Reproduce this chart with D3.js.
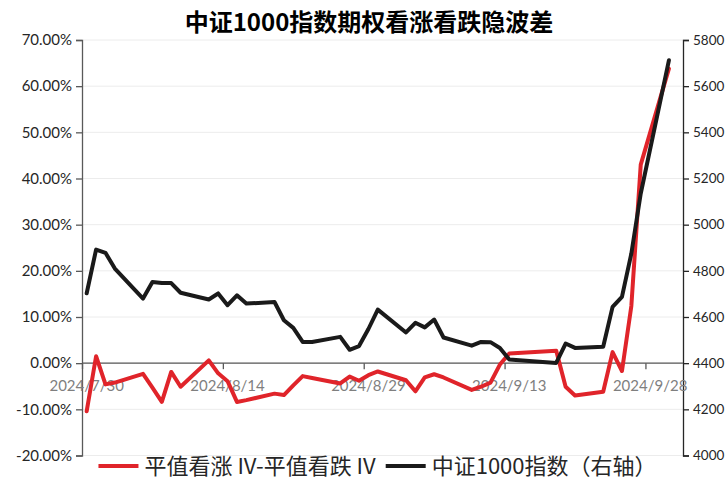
<!DOCTYPE html>
<html><head><meta charset="utf-8">
<script src="https://cdn.jsdelivr.net/npm/d3@7/dist/d3.min.js"></script>
<style>
html,body{margin:0;padding:0;background:#fff;}
svg{display:block;}
</style></head>
<body>
<svg id="chart" width="726" height="492"></svg>
<script>
const dates = ["2024-07-30","2024-07-31","2024-08-01","2024-08-02","2024-08-05","2024-08-06","2024-08-07","2024-08-08","2024-08-09","2024-08-12","2024-08-13","2024-08-14","2024-08-15","2024-08-16","2024-08-19","2024-08-20","2024-08-21","2024-08-22","2024-08-23","2024-08-26","2024-08-27","2024-08-28","2024-08-29","2024-08-30","2024-09-02","2024-09-03","2024-09-04","2024-09-05","2024-09-06","2024-09-09","2024-09-10","2024-09-11","2024-09-12","2024-09-13","2024-09-18","2024-09-19","2024-09-20","2024-09-23","2024-09-24","2024-09-25","2024-09-26","2024-09-27","2024-09-30"];
const ivSpread = [-10.4,1.5,-4.6,-4.2,-2.3,-5.3,-8.4,-1.9,-5.1,0.6,-2.2,-3.9,-8.4,-8.0,-6.6,-6.9,-4.8,-2.8,-3.2,-4.4,-2.9,-3.8,-2.6,-1.8,-3.7,-6.1,-3.1,-2.4,-3.1,-5.8,-5.1,-4.2,-0.3,2.1,2.7,-5.1,-7.0,-6.2,2.4,-1.7,12.4,43.0,63.8];
const csi1000 = [4703,4892,4878,4810,4680,4752,4747,4747,4705,4676,4702,4651,4694,4658,4665,4586,4553,4492,4492,4514,4458,4474,4548,4632,4533,4575,4555,4589,4511,4476,4492,4491,4466,4416,4401,4485,4466,4471,4644,4687,4875,5135,5712];
const leftTicks = [-20,-10,0,10,20,30,40,50,60,70];
const rightTicks = [4000,4200,4400,4600,4800,5000,5200,5400,5600,5800];
const xTickDates = ["2024-07-30","2024-08-14","2024-08-29","2024-09-13","2024-09-28"];
const titleText = "中证1000指数期权看涨看跌隐波差";
const seriesNames = ["平值看涨 IV-平值看跌 IV","中证1000指数（右轴）"];

const svg = d3.select("#chart");
const L = 82, R = 683, T = 40, B = 455.5;
const parse = d3.utcParse("%Y-%m-%d");
const HALF = 12*3600*1000;

const x = d3.scaleUtc().domain([parse("2024-07-30"), parse("2024-10-02")]).range([L, R]);
const yL = d3.scaleLinear().domain([-20, 70]).range([B, T]);
const yR = d3.scaleLinear().domain([4000, 5800]).range([B, T]);

const axisFont = "Lato, 'Noto Sans', sans-serif";
const cjkFont = "'Noto Sans CJK SC', 'Noto Sans', sans-serif";

// gridlines
svg.append("g").selectAll("line").data(leftTicks).join("line")
  .attr("x1", L).attr("x2", R)
  .attr("y1", d => yL(d)).attr("y2", d => yL(d))
  .attr("stroke", "#ececec").attr("stroke-width", 1);

// left axis
const gL = svg.append("g").attr("transform", `translate(${L},0)`)
  .call(d3.axisLeft(yL).tickValues(leftTicks).tickSize(6).tickPadding(4)
    .tickFormat(d => d.toFixed(2) + "%"));
gL.select(".domain").attr("stroke", "#595959").attr("stroke-width", 1.3);
gL.selectAll(".tick line").attr("stroke", "#595959").attr("stroke-width", 1.3);
gL.selectAll("text").attr("font-family", axisFont).attr("font-size", 15).attr("fill", "#262626");

// right axis
const gR = svg.append("g").attr("transform", `translate(${R},0)`)
  .call(d3.axisRight(yR).tickValues(rightTicks).tickSize(6).tickPadding(4)
    .tickFormat(d3.format("d")));
gR.select(".domain").attr("stroke", "#262626").attr("stroke-width", 1.3);
gR.selectAll(".tick line").attr("stroke", "#262626").attr("stroke-width", 1.3);
gR.selectAll("text").attr("font-family", axisFont).attr("font-size", 13.5).attr("fill", "#262626");

// x axis at 0%
const y0 = yL(0);
const gX = svg.append("g").attr("transform", `translate(0,${y0})`)
  .call(d3.axisBottom(x).tickValues(xTickDates.map(parse)).tickSize(6).tickFormat(""));
gX.select(".domain").attr("stroke", "#595959").attr("stroke-width", 1.3).attr("d", `M${L},0H${R}`);
gX.selectAll(".tick line").attr("stroke", "#595959").attr("stroke-width", 1.3);
const fmtDate = d => `${d.getUTCFullYear()}/${d.getUTCMonth()+1}/${d.getUTCDate()}`;
svg.append("g").selectAll("text").data(xTickDates.map(parse)).join("text")
  .attr("x", d => x(new Date(+d + HALF)))
  .attr("y", y0 + 28)
  .attr("text-anchor", "middle")
  .attr("font-family", axisFont).attr("font-size", 15).attr("fill", "#7f7f7f")
  .text(fmtDate);

// lines
const pts = dates.map((d, i) => ({ t: new Date(+parse(d) + HALF), iv: ivSpread[i], idx: csi1000[i] }));
const lineIV = d3.line().x(d => x(d.t)).y(d => yL(d.iv));
const lineIdx = d3.line().x(d => x(d.t)).y(d => yR(d.idx));
svg.append("path").datum(pts).attr("d", lineIV)
  .attr("fill", "none").attr("stroke", "#e0242a").attr("stroke-width", 4)
  .attr("stroke-linejoin", "round").attr("stroke-linecap", "round");
svg.append("path").datum(pts).attr("d", lineIdx)
  .attr("fill", "none").attr("stroke", "#1a1a1a").attr("stroke-width", 4)
  .attr("stroke-linejoin", "round").attr("stroke-linecap", "round");

// title
svg.append("text").attr("x", 369).attr("y", 31).attr("text-anchor", "middle")
  .attr("font-family", cjkFont).attr("font-weight", "bold").attr("font-size", 24)
  .attr("fill", "#000").text(titleText);

// legend
const lg = svg.append("g");
const colors = ["#e0242a", "#1a1a1a"];
let cx = 0;
seriesNames.forEach((name, i) => {
  const g = lg.append("g");
  g.append("line").attr("x1", 0).attr("x2", 40).attr("y1", 0).attr("y2", 0)
    .attr("stroke", colors[i]).attr("stroke-width", 4);
  const t = g.append("text").attr("x", 46).attr("y", 8)
    .attr("font-family", cjkFont).attr("font-size", 22).attr("fill", "#262626").text(name);
  const w = 46 + t.node().getComputedTextLength();
  g.attr("transform", `translate(${cx},0)`);
  cx += w + 10;
});
const totalW = cx - 10;
lg.attr("transform", `translate(${(93 + 662) / 2 - totalW / 2},466)`);
</script>
</body></html>
